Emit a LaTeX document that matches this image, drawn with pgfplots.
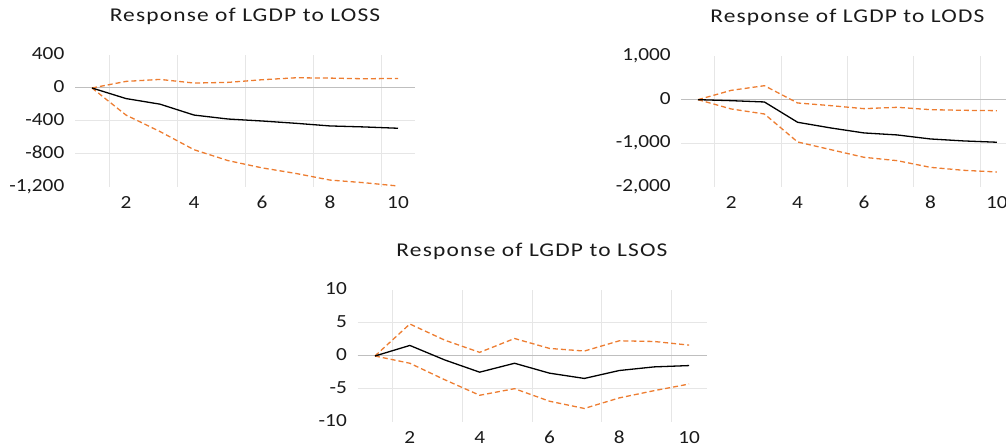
\documentclass[border=0pt]{standalone}
\usepackage{fontspec}
\setmainfont[FakeStretch=1.15]{Carlito}
\newfontfamily\titlefont[FakeStretch=1.2,LetterSpace=6]{Carlito}
\usepackage{pgfplots}
\pgfplotsset{compat=1.18}
\definecolor{ora}{HTML}{ED7D31}
\definecolor{gridc}{HTML}{E6E6E6}
\definecolor{zeroc}{HTML}{BFBFBF}
\definecolor{txt}{HTML}{1A1A1A}
\pgfplotsset{irf/.style={
  scale only axis, xmin=0.5, xmax=10.5,
  axis line style={draw=none}, major tick length=0pt, minor tick length=0pt,
  tick style={draw=none},
  xtick={2,4,6,8,10}, minor xtick={1.5,3.5,5.5,7.5,9.5},
  xminorgrids=true, xmajorgrids=false, ymajorgrids=true,
  minor grid style={gridc, line width=1pt},
  major grid style={gridc, line width=1pt},
  extra y tick style={grid=none},
  /pgf/number format/assume math mode=true,
  ticklabel style={font=\fontsize{18.5}{22}\selectfont, text=txt},
  xticklabel style={anchor=north, inner sep=0pt, yshift=-9pt},
  yticklabel style={anchor=base east, inner sep=0pt, xshift=-10.5pt, yshift=-4.5pt},
  title style={at={(0.5,1)}, anchor=base, yshift=27pt, inner sep=0pt,
    font=\titlefont\fontsize{19.5}{23}\selectfont, text=txt},
  clip=false,
  band/.style={ora, line width=1.3pt, dash pattern=on 5pt off 3pt},
  resp/.style={black, line width=1.3pt},
}}
\begin{document}
\begin{tikzpicture}
\clip (0pt,0pt) rectangle (1006pt,447pt);
% Panel 1: LOSS
\begin{axis}[irf, at={(75pt,392pt)}, anchor=north west, width=340pt, height=132pt,
  ymin=-1200, ymax=400, ytick={-800,-400,0}, extra y ticks={-1200,400},
  title={Response of LGDP to LOSS}]
\addplot[zeroc, line width=1pt, forget plot] coordinates {(0.5,0) (10.5,0)};
\addplot[band] coordinates {(1,0) (2,80) (3,104) (4,60) (5,68) (6,100) (7,124) (8,120) (9,112) (10,116)};
\addplot[band] coordinates {(1,0) (2,-328) (3,-528) (4,-748) (5,-880) (6,-968) (7,-1036) (8,-1116) (9,-1148) (10,-1188)};
\addplot[resp] coordinates {(1,0) (2,-128) (3,-196) (4,-328) (5,-376) (6,-400) (7,-428) (8,-460) (9,-472) (10,-488)};
\end{axis}
% Panel 2: LODS
\begin{axis}[irf, at={(681.4pt,391pt)}, anchor=north west, width=332pt, height=131pt,
  ymin=-2000, ymax=1000, ytick={-1000,0}, extra y ticks={-2000,1000},
  title={Response of LGDP to LODS}]
\addplot[zeroc, line width=1pt, forget plot] coordinates {(0.5,0) (10.5,0)};
\addplot[band] coordinates {(1,0) (2,213) (3,320) (4,-76) (5,-137) (6,-206) (7,-175) (8,-229) (9,-244) (10,-252)};
\addplot[band] coordinates {(1,0) (2,-213) (3,-328) (4,-969) (5,-1145) (6,-1320) (7,-1397) (8,-1550) (9,-1618) (10,-1656)};
\addplot[resp] coordinates {(1,0) (2,-23) (3,-53) (4,-518) (5,-648) (6,-762) (7,-808) (8,-900) (9,-945) (10,-975)};
\end{axis}
% Panel 3: LSOS
\begin{axis}[irf, at={(357.5pt,157pt)}, anchor=north west, width=349pt, height=132pt,
  ymin=-10, ymax=10, ytick={-5,0,5}, extra y ticks={-10,10},
  title={Response of LGDP to LSOS}]
\addplot[zeroc, line width=1pt, forget plot] coordinates {(0.5,0) (10.5,0)};
\addplot[band] coordinates {(1,0) (2,4.85) (3,2.4) (4,0.55) (5,2.65) (6,1.15) (7,0.75) (8,2.3) (9,2.2) (10,1.65)};
\addplot[band] coordinates {(1,0) (2,-1.1) (3,-3.6) (4,-5.95) (5,-4.95) (6,-6.85) (7,-7.95) (8,-6.35) (9,-5.25) (10,-4.25)};
\addplot[resp] coordinates {(1,0) (2,1.6) (3,-0.6) (4,-2.45) (5,-1.1) (6,-2.6) (7,-3.4) (8,-2.2) (9,-1.65) (10,-1.45)};
\end{axis}
\end{tikzpicture}
\end{document}
